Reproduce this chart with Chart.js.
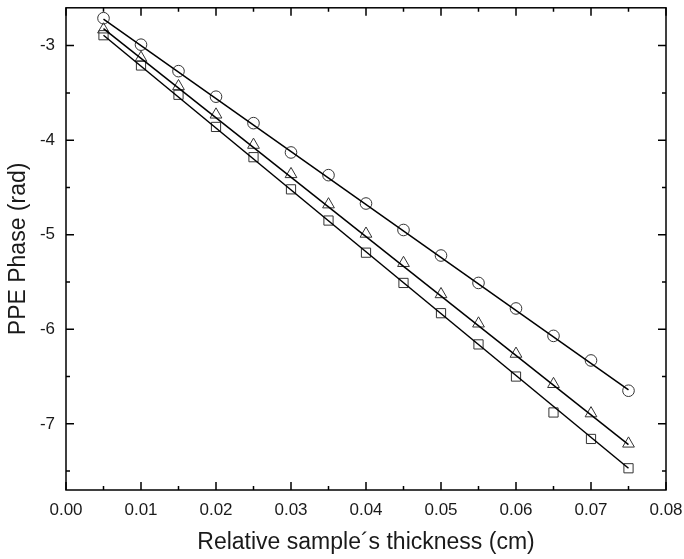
<!DOCTYPE html>
<html>
<head>
<meta charset="utf-8">
<script src="https://cdn.jsdelivr.net/npm/chart.js@4/dist/chart.umd.min.js"></script>
<style>
  html, body { margin: 0; padding: 0; background: #fff; }
  #wrap { width: 684px; height: 559px; }
</style>
</head>
<body>
<div id="wrap"><canvas id="phaseChart"></canvas></div>
<script>
// thickness values (cm)
const thickness = [0.005, 0.010, 0.015, 0.020, 0.025, 0.030, 0.035, 0.040, 0.045, 0.050, 0.055, 0.060, 0.065, 0.070, 0.075];

// PPE phase (rad)
const circlePhase   = [-2.71, -2.99, -3.27, -3.54, -3.82, -4.13, -4.37, -4.67, -4.95, -5.22, -5.51, -5.78, -6.07, -6.33, -6.65];
const trianglePhase = [-2.83, -3.13, -3.43, -3.73, -4.05, -4.36, -4.68, -4.99, -5.30, -5.63, -5.94, -6.26, -6.58, -6.89, -7.21];
const squarePhase   = [-2.89, -3.21, -3.52, -3.86, -4.18, -4.52, -4.85, -5.19, -5.51, -5.83, -6.16, -6.50, -6.88, -7.16, -7.47];

// fitted straight lines, end points
const fitX        = [0.005, 0.075];
const circleFit   = [-2.72, -6.64];
const triangleFit = [-2.82, -7.22];
const squareFit   = [-2.89, -7.47];

const xTicks = [0.00, 0.01, 0.02, 0.03, 0.04, 0.05, 0.06, 0.07, 0.08];
const yTicks = [-7, -6, -5, -4, -3];

const toPts = (xs, ys) => xs.map((x, i) => ({ x: x, y: ys[i] }));

// inward ticks on all four sides + frame
const frameTicks = {
    id: 'frameTicks',
    afterDraw(chart) {
        const c = chart.ctx, a = chart.chartArea;
        const xs = chart.scales.x, ys = chart.scales.y;
        c.save();
        c.strokeStyle = '#000';
        c.lineWidth = 1.5;
        c.strokeRect(a.left, a.top, a.right - a.left, a.bottom - a.top);
        c.beginPath();
        for (let i = 0; i < xTicks.length; i++) {
            const px = xs.getPixelForValue(xTicks[i]);
            c.moveTo(px, a.bottom); c.lineTo(px, a.bottom - 8);
            c.moveTo(px, a.top); c.lineTo(px, a.top + 8);
            if (i < xTicks.length - 1) {
                const mx = xs.getPixelForValue((xTicks[i] + xTicks[i + 1]) / 2);
                c.moveTo(mx, a.bottom); c.lineTo(mx, a.bottom - 4);
                c.moveTo(mx, a.top); c.lineTo(mx, a.top + 4);
            }
        }
        for (let i = 0; i < yTicks.length; i++) {
            const py = ys.getPixelForValue(yTicks[i]);
            c.moveTo(a.left, py); c.lineTo(a.left + 8, py);
            c.moveTo(a.right, py); c.lineTo(a.right - 8, py);
            const mv = yTicks[i] - 0.5;
            if (mv >= ys.min) {
                const my = ys.getPixelForValue(mv);
                c.moveTo(a.left, my); c.lineTo(a.left + 4, my);
                c.moveTo(a.right, my); c.lineTo(a.right - 4, my);
            }
        }
        c.stroke();
        c.restore();
    }
};

const fitStyle = {
    showLine: true,
    borderColor: '#000',
    borderWidth: 1.5,
    pointRadius: 0,
    fill: false
};
const markStyle = {
    showLine: false,
    borderColor: '#333',
    backgroundColor: 'rgba(255,255,255,0)',
    borderWidth: 1
};

new Chart(document.getElementById('phaseChart'), {
    type: 'scatter',
    data: {
        datasets: [
            Object.assign({ label: 'fit circle', data: toPts(fitX, circleFit) }, fitStyle),
            Object.assign({ label: 'fit triangle', data: toPts(fitX, triangleFit) }, fitStyle),
            Object.assign({ label: 'fit square', data: toPts(fitX, squareFit) }, fitStyle),
            Object.assign({ label: 'circle', data: toPts(thickness, circlePhase), pointStyle: 'circle', pointRadius: 5.8 }, markStyle),
            Object.assign({ label: 'triangle', data: toPts(thickness, trianglePhase), pointStyle: 'triangle', pointRadius: 6.8 }, markStyle),
            Object.assign({ label: 'square', data: toPts(thickness, squarePhase), pointStyle: 'rect', pointRadius: 6.5 }, markStyle)
        ]
    },
    options: {
        responsive: true,
        maintainAspectRatio: false,
        animation: false,
        layout: { padding: { top: 6, right: 18, left: 0, bottom: 0 } },
        plugins: {
            legend: { display: false },
            tooltip: { enabled: false }
        },
        scales: {
            x: {
                type: 'linear',
                min: 0,
                max: 0.08,
                afterBuildTicks: s => { s.ticks = xTicks.map(v => ({ value: v })); },
                afterFit: s => { s.height = 69; s.paddingLeft = 0; s.paddingRight = 0; },
                grid: { display: false, drawTicks: false },
                border: { display: false },
                ticks: {
                    padding: 10,
                    color: '#1a1a1a',
                    font: { family: 'Liberation Sans', size: 17 },
                    maxRotation: 0,
                    callback: v => v.toFixed(2)
                },
                title: {
                    display: true,
                    text: 'Relative sample´s thickness (cm)',
                    color: '#1a1a1a',
                    font: { family: 'Liberation Sans', size: 23 },
                    padding: { top: 4, bottom: 3 }
                }
            },
            y: {
                type: 'linear',
                min: -7.7,
                max: -2.6,
                afterBuildTicks: s => { s.ticks = yTicks.map(v => ({ value: v })); },
                afterFit: s => { s.width = 66; s.paddingTop = 0; s.paddingBottom = 0; },
                grid: { display: false, drawTicks: false },
                border: { display: false },
                ticks: {
                    padding: 11,
                    color: '#1a1a1a',
                    font: { family: 'Liberation Sans', size: 17 },
                    callback: v => String(v)
                },
                title: {
                    display: true,
                    text: 'PPE Phase (rad)',
                    color: '#1a1a1a',
                    font: { family: 'Liberation Sans', size: 23 },
                    padding: { top: 5, bottom: 0 }
                }
            }
        }
    },
    plugins: [frameTicks]
});
</script>
</body>
</html>
